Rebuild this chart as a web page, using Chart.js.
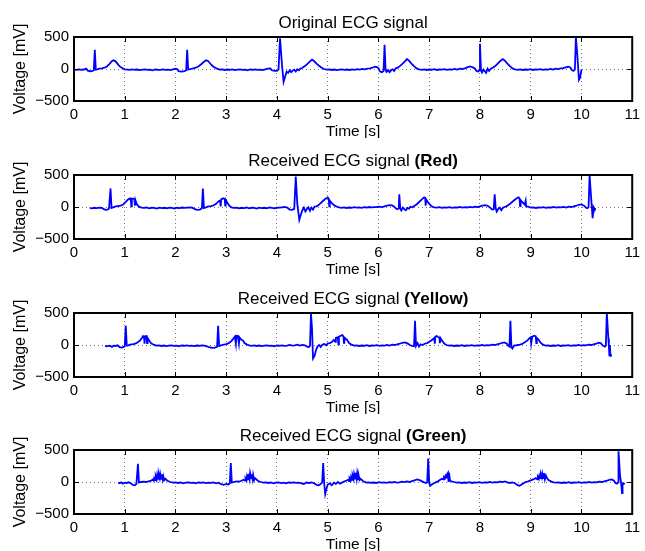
<!DOCTYPE html>
<html>
<head>
<meta charset="utf-8">
<script src="https://cdn.jsdelivr.net/npm/chart.js@4/dist/chart.umd.min.js"></script>
<style>
  body { margin: 0; background: #fff; overflow: hidden; }
  #wrap { position: relative; width: 645px; height: 551px; }
  #wrap canvas { position: absolute; left: 0; }
</style>
</head>
<body>
<div id="wrap">
  <canvas id="ecg0" width="645" height="138" style="top:0px"></canvas>
  <canvas id="ecg1" width="645" height="138" style="top:138px"></canvas>
  <canvas id="ecg2" width="645" height="138" style="top:276px"></canvas>
  <canvas id="ecg3" width="645" height="138" style="top:413px"></canvas>
</div>
<script>
// samples are [time s, voltage mV]
const originalEcg = [
  [0.00,-10],[0.05,-15],[0.10,-5],[0.15,-12],[0.20,-8],[0.24,5],[0.27,-25],[0.32,-35],[0.37,-30],[0.39,-20],
  [0.41,300],[0.43,-10],[0.46,-5],[0.50,5],[0.55,10],[0.60,20],[0.65,40],[0.70,80],[0.75,125],[0.78,135],
  [0.82,120],[0.86,80],[0.90,40],[0.95,15],[1.00,-5],[1.05,-10],[1.10,-15],[1.15,-5],[1.20,-12],[1.25,-8],
  [1.30,-18],[1.35,-10],[1.40,-5],[1.45,-15],[1.50,-10],[1.55,-20],[1.60,-8],[1.65,-12],[1.70,-15],[1.75,-5],
  [1.80,-14],[1.85,-10],[1.90,-18],[1.95,-5],[2.00,5],[2.03,0],[2.06,-35],[2.12,-40],[2.18,-35],[2.21,-20],
  [2.23,300],[2.25,-10],[2.30,0],[2.35,10],[2.40,20],[2.45,40],[2.50,70],[2.55,105],[2.60,135],[2.64,125],
  [2.68,90],[2.72,55],[2.77,25],[2.82,5],[2.87,-10],[2.92,-5],[2.97,-15],[3.02,-8],[3.07,-12],[3.12,-5],
  [3.17,-18],[3.22,-10],[3.27,-6],[3.32,-15],[3.37,-10],[3.42,-20],[3.47,-8],[3.52,-12],[3.57,-5],[3.62,-15],
  [3.67,-10],[3.72,-18],[3.77,-6],[3.82,5],[3.87,10],[3.90,-20],[3.95,-30],[4.00,-30],[4.03,-10],[4.06,480],
  [4.10,50],[4.13,-200],[4.16,-120],[4.19,-40],[4.22,-60],[4.25,-20],[4.28,-50],[4.31,-25],[4.34,-10],[4.37,-40],
  [4.40,-5],[4.43,-20],[4.46,5],[4.50,20],[4.55,45],[4.60,80],[4.65,120],[4.69,145],[4.73,125],[4.78,85],
  [4.83,50],[4.88,20],[4.93,0],[4.98,-10],[5.03,-5],[5.08,-15],[5.13,-8],[5.18,-18],[5.23,-10],[5.28,-5],
  [5.33,-14],[5.38,-8],[5.43,-15],[5.48,-5],[5.53,-12],[5.58,-3],[5.63,-10],[5.68,0],[5.73,-5],[5.78,5],
  [5.83,10],[5.88,20],[5.93,35],[5.97,30],[6.00,10],[6.03,-40],[6.07,-50],[6.10,-30],[6.12,380],[6.14,-20],
  [6.16,-45],[6.19,-15],[6.22,-50],[6.25,-20],[6.28,-5],[6.31,-30],[6.34,10],[6.38,20],[6.42,45],[6.47,80],
  [6.52,120],[6.56,155],[6.60,130],[6.65,85],[6.70,45],[6.75,10],[6.80,-5],[6.85,-12],[6.90,-5],[6.95,-15],
  [7.00,-8],[7.05,-12],[7.10,-3],[7.15,-15],[7.20,-8],[7.25,-10],[7.30,-2],[7.35,-12],[7.40,-5],[7.45,-10],
  [7.50,0],[7.55,-8],[7.60,5],[7.65,0],[7.70,10],[7.75,25],[7.80,40],[7.85,30],[7.90,10],[7.93,-30],
  [7.97,-40],[7.99,-20],[8.00,395],[8.02,-20],[8.04,-55],[8.07,-10],[8.10,-40],[8.12,-60],[8.15,5],[8.18,-30],
  [8.21,0],[8.25,20],[8.30,45],[8.35,85],[8.40,125],[8.45,155],[8.49,130],[8.54,85],[8.59,45],[8.64,10],
  [8.69,-5],[8.74,-12],[8.79,-5],[8.84,-15],[8.89,-8],[8.94,-12],[8.99,-3],[9.04,-15],[9.09,-8],[9.14,-10],
  [9.19,-2],[9.24,-12],[9.29,-5],[9.34,-10],[9.39,0],[9.44,-8],[9.49,5],[9.54,-3],[9.59,8],[9.64,15],
  [9.69,25],[9.74,35],[9.78,25],[9.81,-15],[9.84,-30],[9.87,-10],[9.89,500],[9.92,200],[9.95,-170],[9.97,-140],
  [10.00,-10]
];

const redEcg = [
  [0.31,-15],[0.35,-20],[0.40,-12],[0.45,-18],[0.50,-10],[0.55,-15],[0.58,-30],[0.62,-45],[0.66,-40],[0.69,-25],
  [0.72,290],[0.74,-15],[0.77,-5],[0.82,10],[0.87,15],[0.92,20],[0.97,40],[1.02,80],[1.06,115],[1.10,135],
  [1.12,100],[1.13,10],[1.14,130],[1.17,130],[1.19,120],[1.20,20],[1.21,110],[1.24,40],[1.28,5],[1.33,-10],
  [1.38,-15],[1.43,-8],[1.48,-20],[1.53,-12],[1.58,-15],[1.63,-25],[1.68,-10],[1.73,-18],[1.78,-12],[1.83,-22],
  [1.88,-10],[1.93,-15],[1.98,-25],[2.03,-12],[2.08,-18],[2.13,-8],[2.18,-15],[2.23,-10],[2.28,-5],[2.33,-10],
  [2.38,-35],[2.43,-45],[2.48,-40],[2.52,-20],[2.54,290],[2.56,-15],[2.60,-5],[2.65,10],[2.70,15],[2.75,25],
  [2.80,50],[2.85,90],[2.88,100],[2.89,10],[2.90,120],[2.94,135],[2.97,125],[2.98,20],[2.99,110],[3.02,70],
  [3.06,20],[3.10,-5],[3.15,-15],[3.20,-10],[3.25,-20],[3.30,-12],[3.35,-18],[3.40,-8],[3.45,-22],[3.50,-12],
  [3.55,-15],[3.60,-25],[3.65,-10],[3.70,-18],[3.75,-12],[3.80,-20],[3.85,-8],[3.90,-15],[3.95,-22],[4.00,-12],
  [4.05,-10],[4.10,-5],[4.15,0],[4.20,-10],[4.25,-40],[4.30,-45],[4.34,-30],[4.37,475],[4.40,50],[4.44,-200],
  [4.47,-120],[4.50,-50],[4.53,-10],[4.56,-70],[4.59,-30],[4.62,-5],[4.65,-60],[4.68,-10],[4.71,-40],[4.74,5],
  [4.78,10],[4.82,30],[4.86,60],[4.90,90],[4.95,125],[5.00,150],[5.02,130],[5.03,10],[5.04,100],[5.08,60],
  [5.13,25],[5.18,5],[5.22,-5],[5.27,-12],[5.32,-5],[5.37,-15],[5.42,-8],[5.47,-12],[5.52,-3],[5.57,-10],
  [5.62,-5],[5.67,-12],[5.72,-2],[5.77,-8],[5.82,0],[5.87,-5],[5.92,-2],[5.97,0],[6.02,5],[6.07,-3],
  [6.12,10],[6.17,20],[6.22,30],[6.27,25],[6.31,5],[6.34,-20],[6.37,-35],[6.40,-20],[6.41,200],[6.43,-30],
  [6.45,-55],[6.48,-10],[6.51,-35],[6.54,-50],[6.57,-15],[6.60,-25],[6.63,5],[6.67,-5],[6.71,20],[6.75,40],
  [6.79,70],[6.83,100],[6.87,130],[6.90,150],[6.92,140],[6.93,20],[6.94,120],[6.97,80],[7.01,40],[7.05,10],
  [7.10,-5],[7.15,-10],[7.20,-3],[7.25,-12],[7.30,-5],[7.35,-10],[7.40,-2],[7.45,-12],[7.50,-5],[7.55,-8],
  [7.60,0],[7.65,-10],[7.70,-3],[7.75,-8],[7.80,2],[7.85,-5],[7.90,5],[7.95,0],[8.00,10],[8.05,20],
  [8.10,30],[8.15,20],[8.20,-10],[8.24,-40],[8.27,-35],[8.29,200],[8.31,-20],[8.33,-70],[8.36,-30],[8.39,-10],
  [8.42,-50],[8.45,-15],[8.48,0],[8.52,10],[8.56,30],[8.60,55],[8.65,90],[8.70,120],[8.74,145],[8.76,150],
  [8.78,130],[8.79,15],[8.80,110],[8.84,70],[8.88,40],[8.90,100],[8.91,10],[8.95,5],[9.00,-10],[9.05,-5],
  [9.10,-15],[9.15,-8],[9.20,-10],[9.25,-2],[9.30,-12],[9.35,-5],[9.40,-8],[9.45,0],[9.50,-10],[9.55,-3],
  [9.60,-6],[9.65,2],[9.70,-8],[9.75,5],[9.80,0],[9.85,10],[9.90,20],[9.95,35],[10.00,40],[10.05,20],
  [10.09,-10],[10.12,-20],[10.14,0],[10.16,500],[10.19,150],[10.22,-175],[10.23,-80],[10.24,-5],[10.25,-20],[10.26,-60],
  [10.27,-15]
];

const yellowEcg = [
  [0.61,-15],[0.65,-20],[0.70,-10],[0.75,-30],[0.78,-10],[0.82,-15],[0.86,-5],[0.90,-35],[0.94,-40],[0.98,-30],
  [1.00,-20],[1.02,300],[1.04,-10],[1.07,-5],[1.12,10],[1.17,15],[1.22,25],[1.27,50],[1.31,80],[1.34,110],
  [1.36,140],[1.38,130],[1.39,20],[1.40,135],[1.43,140],[1.44,30],[1.45,110],[1.48,70],[1.52,25],[1.57,5],
  [1.62,-10],[1.67,-5],[1.72,-15],[1.77,-8],[1.82,-18],[1.87,-10],[1.92,-5],[1.97,-15],[2.02,-10],[2.07,-20],
  [2.12,-8],[2.17,-12],[2.22,-5],[2.27,-15],[2.32,-10],[2.37,-18],[2.42,-8],[2.47,-12],[2.52,-5],[2.57,-10],
  [2.62,-20],[2.66,-35],[2.72,-45],[2.78,-40],[2.82,-25],[2.84,300],[2.86,-15],[2.90,-5],[2.95,5],[3.00,15],
  [3.05,30],[3.10,60],[3.14,100],[3.17,130],[3.19,20],[3.20,145],[3.23,140],[3.25,25],[3.26,120],[3.30,80],
  [3.33,70],[3.36,30],[3.40,10],[3.45,-5],[3.50,-12],[3.55,-5],[3.60,-15],[3.65,-8],[3.70,-18],[3.75,-10],
  [3.80,-5],[3.85,-15],[3.90,-10],[3.95,-20],[4.00,-8],[4.05,-12],[4.10,-5],[4.15,-15],[4.20,-10],[4.25,0],
  [4.30,-10],[4.35,-5],[4.40,5],[4.45,-10],[4.50,0],[4.55,-5],[4.59,-25],[4.63,-30],[4.65,-10],[4.67,490],
  [4.69,260],[4.71,-210],[4.74,-170],[4.77,-80],[4.80,-20],[4.83,0],[4.86,-30],[4.89,5],[4.93,15],[4.97,-5],
  [5.00,25],[5.04,30],[5.08,45],[5.12,80],[5.15,50],[5.16,110],[5.20,120],[5.21,10],[5.22,130],[5.27,150],
  [5.29,155],[5.31,130],[5.32,20],[5.34,110],[5.38,80],[5.42,30],[5.47,5],[5.52,-10],[5.57,-5],[5.62,-15],
  [5.67,-8],[5.72,-12],[5.77,-3],[5.82,-15],[5.87,-8],[5.92,-10],[5.97,-2],[6.02,-12],[6.07,-5],[6.12,-10],
  [6.17,0],[6.22,-8],[6.27,5],[6.32,0],[6.37,10],[6.42,20],[6.47,35],[6.52,40],[6.57,25],[6.62,0],
  [6.66,-15],[6.70,-20],[6.72,380],[6.74,-15],[6.77,30],[6.80,-25],[6.83,10],[6.87,0],[6.91,20],[6.96,30],
  [7.00,50],[7.04,70],[7.07,90],[7.10,110],[7.11,20],[7.12,130],[7.15,140],[7.18,120],[7.20,115],[7.21,30],
  [7.22,110],[7.26,60],[7.30,20],[7.34,0],[7.39,-10],[7.44,-5],[7.49,-15],[7.54,-8],[7.59,-12],[7.64,-3],
  [7.69,-15],[7.74,-8],[7.79,-10],[7.84,-2],[7.89,-12],[7.94,-5],[7.99,-8],[8.04,0],[8.09,-10],[8.14,-3],
  [8.19,-6],[8.24,5],[8.29,0],[8.34,10],[8.39,20],[8.44,35],[8.48,40],[8.53,20],[8.56,-15],[8.58,-25],
  [8.60,380],[8.62,-40],[8.64,-55],[8.67,-10],[8.71,-5],[8.75,0],[8.79,5],[8.84,20],[8.89,45],[8.94,75],
  [8.98,110],[9.00,120],[9.01,25],[9.03,130],[9.07,145],[9.10,135],[9.11,30],[9.12,110],[9.15,90],[9.19,40],
  [9.24,5],[9.29,-10],[9.34,-5],[9.39,-15],[9.44,-8],[9.49,-12],[9.54,-3],[9.59,-15],[9.64,-8],[9.69,-10],
  [9.74,-2],[9.79,-12],[9.84,-5],[9.89,-8],[9.94,0],[9.99,-10],[10.04,-3],[10.09,-6],[10.14,5],[10.19,0],
  [10.24,10],[10.29,20],[10.34,35],[10.38,30],[10.42,-10],[10.46,-25],[10.48,-10],[10.50,500],[10.53,100],[10.54,-20],
  [10.55,-160],[10.56,0],[10.57,-170],[10.58,-140]
];

const greenEcg = [
  [0.87,-10],[0.90,-20],[0.93,-5],[0.96,-25],[1.00,-10],[1.04,-15],[1.08,-5],[1.12,-20],[1.16,-45],[1.20,-50],
  [1.23,-30],[1.26,285],[1.28,-10],[1.32,0],[1.37,5],[1.42,0],[1.47,10],[1.52,20],[1.55,40],[1.57,20],
  [1.58,60],[1.60,30],[1.61,90],[1.63,40],[1.64,110],[1.66,50],[1.67,125],[1.69,60],[1.70,125],[1.72,50],
  [1.73,120],[1.75,40],[1.76,90],[1.78,30],[1.80,50],[1.84,20],[1.90,0],[1.95,-10],[2.00,-5],[2.05,-15],
  [2.10,-8],[2.15,-20],[2.20,-10],[2.25,-5],[2.30,-15],[2.35,-10],[2.40,-22],[2.45,-8],[2.50,-12],[2.55,-5],
  [2.60,-18],[2.65,-10],[2.70,-15],[2.75,-5],[2.80,-20],[2.85,-10],[2.90,-35],[2.95,-45],[3.00,-30],[3.04,-40],
  [3.07,-20],[3.09,295],[3.11,-10],[3.15,0],[3.20,10],[3.25,5],[3.30,20],[3.34,35],[3.37,20],[3.38,60],
  [3.40,30],[3.41,90],[3.43,40],[3.44,130],[3.46,50],[3.47,140],[3.49,60],[3.50,120],[3.52,40],[3.53,110],
  [3.55,30],[3.57,60],[3.62,20],[3.68,0],[3.73,-10],[3.78,-5],[3.83,-15],[3.88,-8],[3.93,-20],[3.98,-10],
  [4.03,-5],[4.08,-18],[4.13,-10],[4.18,-22],[4.23,-8],[4.28,-12],[4.33,-5],[4.38,-15],[4.43,-10],[4.48,-20],
  [4.53,-30],[4.58,-8],[4.63,-15],[4.68,-5],[4.73,-20],[4.78,-45],[4.82,-50],[4.86,-30],[4.89,-10],[4.91,295],
  [4.93,-20],[4.95,-190],[4.97,-120],[5.00,-40],[5.04,-20],[5.08,-50],[5.12,-10],[5.16,-30],[5.20,0],[5.24,-25],
  [5.28,-10],[5.32,5],[5.36,20],[5.40,35],[5.42,15],[5.43,55],[5.45,25],[5.46,80],[5.48,35],[5.49,100],
  [5.51,45],[5.52,125],[5.54,55],[5.55,145],[5.57,50],[5.58,130],[5.60,40],[5.61,100],[5.63,30],[5.65,50],
  [5.70,10],[5.76,-10],[5.81,-5],[5.86,-12],[5.91,-8],[5.96,-15],[6.01,-3],[6.06,-10],[6.11,-5],[6.16,-12],
  [6.21,-2],[6.26,-8],[6.31,0],[6.36,-10],[6.41,-5],[6.46,5],[6.51,-3],[6.56,8],[6.61,0],[6.66,15],
  [6.71,25],[6.76,40],[6.81,30],[6.86,10],[6.90,-5],[6.94,-15],[6.96,-5],[6.98,365],[7.00,-20],[7.02,-60],
  [7.05,-40],[7.09,-20],[7.13,-5],[7.17,10],[7.21,30],[7.25,50],[7.28,40],[7.29,75],[7.31,60],[7.32,95],
  [7.34,70],[7.35,120],[7.37,145],[7.38,0],[7.39,145],[7.41,20],[7.44,10],[7.49,0],[7.54,-10],[7.59,-5],
  [7.64,-15],[7.69,-8],[7.74,-12],[7.79,-3],[7.84,-15],[7.89,-8],[7.94,-10],[7.99,-2],[8.04,-12],[8.09,-5],
  [8.14,-8],[8.19,0],[8.24,-10],[8.29,-3],[8.34,-6],[8.39,5],[8.44,0],[8.49,10],[8.54,-5],[8.59,-15],
  [8.64,-5],[8.69,-20],[8.74,-50],[8.78,-60],[8.82,-40],[8.86,-20],[8.90,0],[8.95,10],[9.00,25],[9.05,40],
  [9.10,60],[9.13,40],[9.14,80],[9.16,50],[9.17,100],[9.19,60],[9.20,120],[9.22,70],[9.23,130],[9.25,60],
  [9.26,140],[9.28,40],[9.30,100],[9.32,60],[9.35,30],[9.40,10],[9.45,-5],[9.50,-10],[9.55,-5],[9.60,-15],
  [9.65,-8],[9.70,-12],[9.75,-3],[9.80,-15],[9.85,-8],[9.90,-10],[9.95,-2],[10.00,-12],[10.05,-5],[10.10,-8],
  [10.15,0],[10.20,-10],[10.25,-3],[10.30,-6],[10.35,5],[10.40,0],[10.45,10],[10.50,20],[10.55,35],[10.60,40],
  [10.64,20],[10.67,-15],[10.70,-25],[10.72,-5],[10.73,480],[10.76,100],[10.78,-5],[10.80,-175],[10.81,-30],[10.83,-20],
  [10.85,-40]
];

const panelTitles = ['Original ECG signal', 'Received ECG signal', 'Received ECG signal', 'Received ECG signal'];
const panelChannels = ['', 'Red', 'Yellow', 'Green'];
const timeTicks = [0, 1, 2, 3, 4, 5, 6, 7, 8, 9, 10, 11];
const voltTicks = [-500, 0, 500];

const FONT = '"Liberation Sans", Arial, Helvetica, sans-serif';
Chart.defaults.color = '#000';
Chart.defaults.font.family = FONT;

// axes box, inward tick marks and the (partly bold) title above each panel
const matlabAxes = {
  id: 'matlabAxes',
  afterDraw(chart, args, opts) {
    const { ctx, chartArea: a, scales } = chart;
    ctx.save();
    ctx.strokeStyle = '#000';
    ctx.lineWidth = 1;
    ctx.beginPath();
    timeTicks.forEach(t => {
      const x = Math.round(scales.x.getPixelForValue(t)) + 0.5;
      ctx.moveTo(x, a.bottom); ctx.lineTo(x, a.bottom - 5);
      ctx.moveTo(x, a.top); ctx.lineTo(x, a.top + 5);
    });
    voltTicks.forEach(v => {
      const y = Math.round(scales.y.getPixelForValue(v)) + 0.5;
      ctx.moveTo(a.left, y); ctx.lineTo(a.left + 5, y);
      ctx.moveTo(a.right, y); ctx.lineTo(a.right - 5, y);
    });
    ctx.stroke();
    ctx.lineWidth = 2;
    ctx.strokeRect(a.left, a.top, a.right - a.left, a.bottom - a.top);

    const cx = (a.left + a.right) / 2;
    const y = a.top - 9;
    const plain = opts.text + (opts.channel ? ' ' : '');
    const bold = opts.channel ? '(' + opts.channel + ')' : '';
    ctx.font = '17px ' + FONT;
    const w1 = ctx.measureText(plain).width;
    ctx.font = 'bold 17px ' + FONT;
    const w2 = ctx.measureText(bold).width;
    const x0 = cx - (w1 + w2) / 2;
    ctx.fillStyle = '#000';
    ctx.textBaseline = 'alphabetic';
    ctx.textAlign = 'left';
    ctx.font = '17px ' + FONT;
    ctx.fillText(plain, x0, y);
    ctx.font = 'bold 17px ' + FONT;
    ctx.fillText(bold, x0 + w1, y);
    ctx.restore();
  }
};

const signals = [originalEcg, redEcg, yellowEcg, greenEcg];

signals.forEach((sig, i) => {
  new Chart(document.getElementById('ecg' + i), {
    type: 'line',
    data: {
      datasets: [{
        data: sig.map(p => ({ x: p[0], y: p[1] })),
        borderColor: '#0000ff',
        borderWidth: 1.8,
        pointRadius: 0,
        tension: 0,
        fill: false
      }]
    },
    options: {
      responsive: false,
      animation: false,
      events: [],
      layout: { padding: { top: 37, right: 9, bottom: 0, left: 0 } },
      plugins: {
        legend: { display: false },
        tooltip: { enabled: false },
        matlabAxes: { text: panelTitles[i], channel: panelChannels[i] }
      },
      scales: {
        x: {
          type: 'linear',
          min: 0,
          max: 11,
          afterBuildTicks: s => { s.ticks = timeTicks.map(v => ({ value: v })); },
          ticks: { padding: 5, maxRotation: 0, font: { size: 15 } },
          grid: { color: '#777', lineWidth: 1, drawTicks: false },
          border: { display: false, dash: [1, 3] },
          title: { display: true, text: 'Time [s]', font: { size: 15.5, lineHeight: 0.8 }, padding: 0 },
          afterFit: s => { s.height = 37; }
        },
        y: {
          min: -500,
          max: 500,
          afterBuildTicks: s => { s.ticks = voltTicks.map(v => ({ value: v })); },
          ticks: {
            padding: 5,
            font: { size: 15 },
            callback: v => (v < 0 ? '\u2212' + Math.abs(v) : String(v))
          },
          grid: {
            color: c => (c.tick && c.tick.value === 0 ? '#777' : 'rgba(0,0,0,0)'),
            lineWidth: 1,
            drawTicks: false
          },
          border: { display: false, dash: [1, 3] },
          title: { display: true, text: 'Voltage [mV]', font: { size: 16, lineHeight: 1 }, padding: { top: 13, bottom: 0 } },
          afterFit: s => { s.width = 74; }
        }
      }
    },
    plugins: [matlabAxes]
  });
});
</script>
</body>
</html>
